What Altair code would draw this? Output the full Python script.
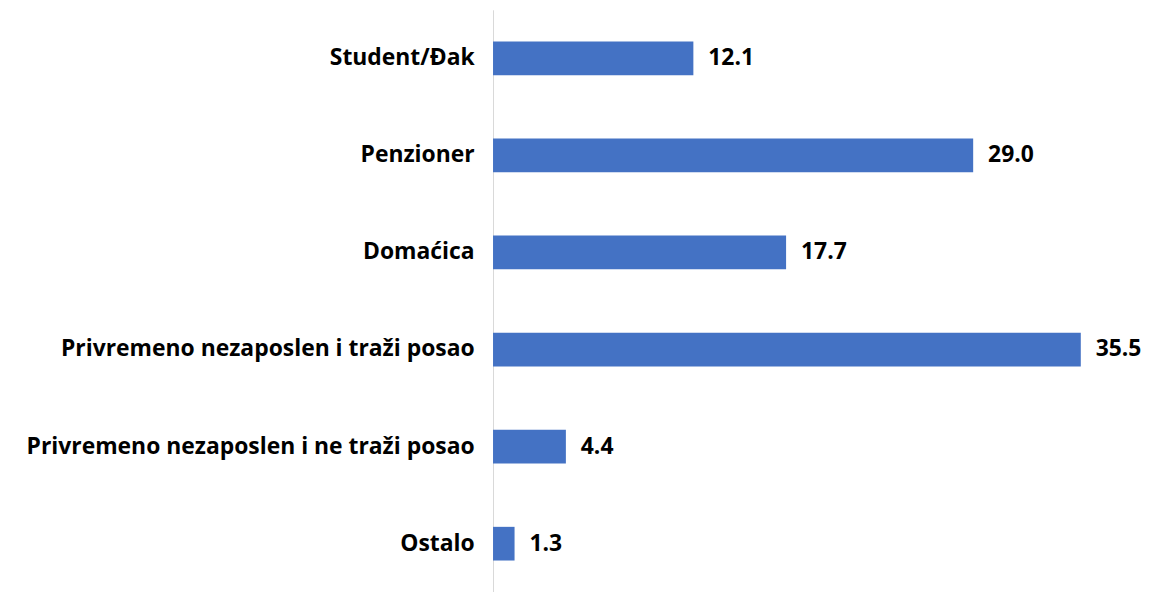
import altair as alt
import pandas as pd

categories = [
    "Student/Đak",
    "Penzioner",
    "Domaćica",
    "Privremeno nezaposlen i traži posao",
    "Privremeno nezaposlen i ne traži posao",
    "Ostalo",
]
values = [12.1, 29.0, 17.7, 35.5, 4.4, 1.3]

df = pd.DataFrame({"cat": categories, "val": values})
df["label"] = df["val"].map(lambda v: f"{v:.1f}")

FONT = "Open Sans"
FS = 23

y = alt.Y(
    "cat:N",
    sort=categories,
    title=None,
    scale=alt.Scale(paddingInner=0.653, paddingOuter=0.3265),
    axis=alt.Axis(
        domain=True,
        domainColor="#d9d9d9",
        domainWidth=1,
        ticks=False,
        grid=False,
        labelFont=FONT,
        labelFontSize=FS,
        labelFontWeight="bold",
        labelColor="#000000",
        labelPadding=19,
        labelLimit=600,
    ),
)
x = alt.X("val:Q", title=None, scale=alt.Scale(domain=[0, 38], nice=False), axis=None)

bars = alt.Chart(df).mark_bar(color="#4472C4").encode(x=x, y=y)
text = alt.Chart(df).mark_text(
    align="left", baseline="middle", dx=15, font=FONT, fontSize=FS, fontWeight="bold", color="#000000"
).encode(x=x, y=alt.Y("cat:N", sort=categories), text="label:N")

chart = (
    alt.layer(bars, text)
    .properties(
        width=633,
        height=586,
        autosize=alt.AutoSizeParams(type="none"),
        padding={"left": 488, "top": 0, "right": 30, "bottom": 0},
        view=alt.ViewBackground(stroke="transparent", strokeWidth=0),
    )
    .configure_view(strokeWidth=0, stroke="transparent")
    .configure(background="white")
)

chart.save("out.html", embed_options={"renderer": "svg", "actions": False})
